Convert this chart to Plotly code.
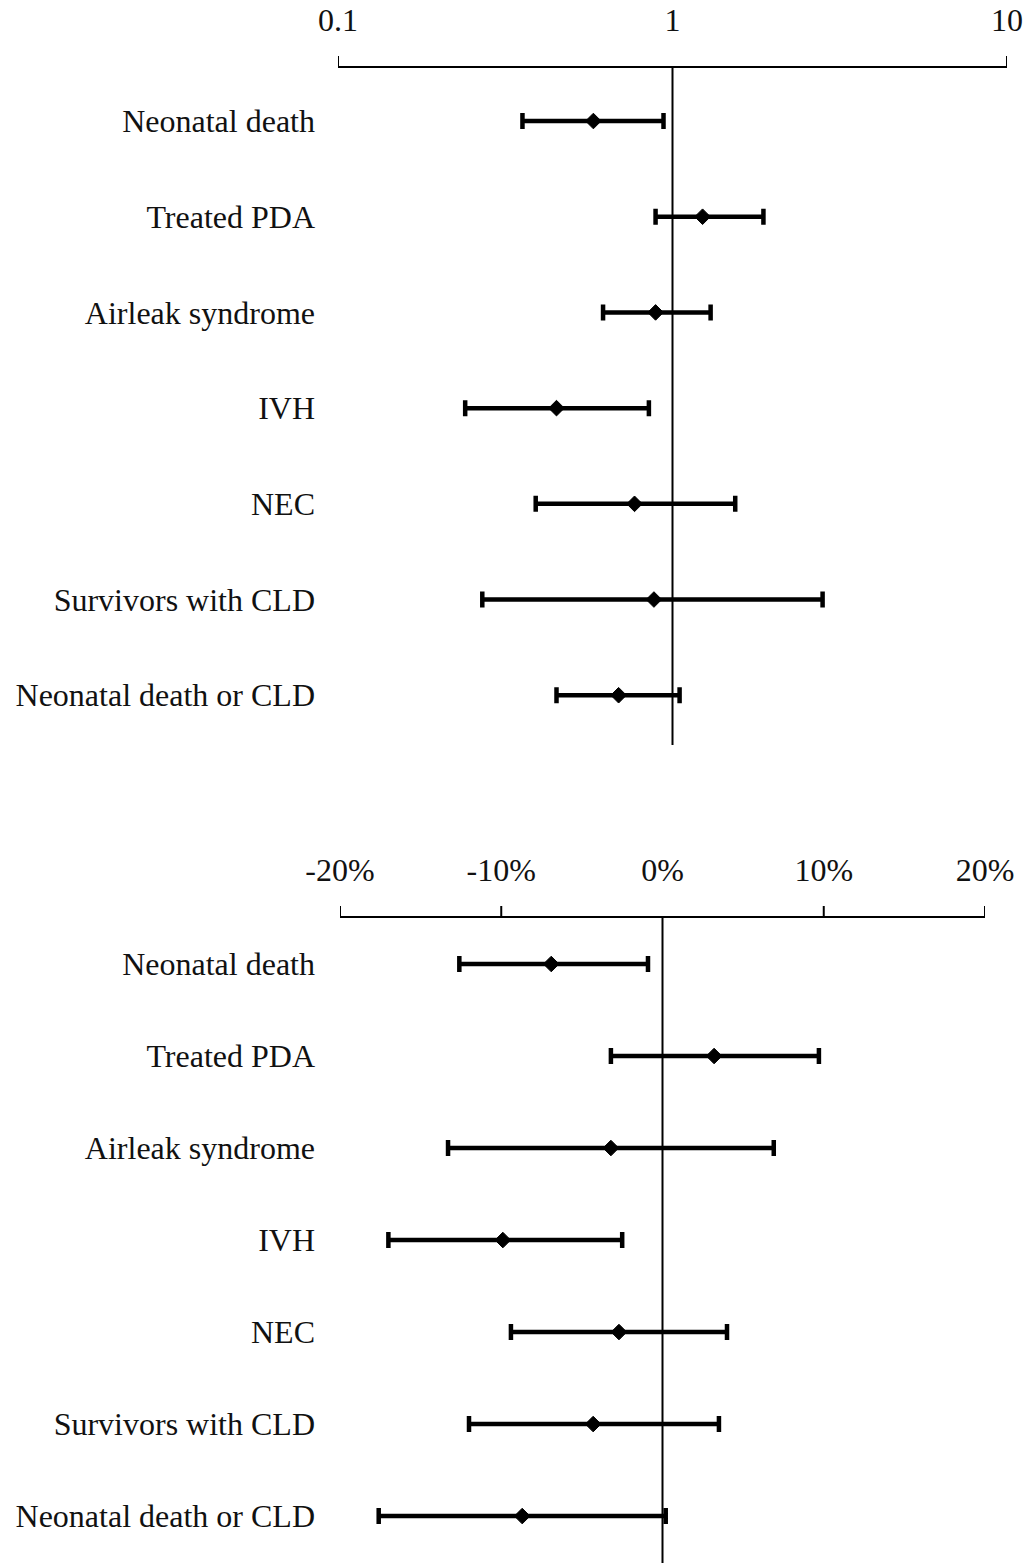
import plotly.graph_objects as go

# Outcomes, listed top to bottom
outcomes = ["Neonatal death", "Treated PDA", "Airleak syndrome", "IVH", "NEC",
            "Survivors with CLD", "Neonatal death or CLD"]

# Relative risk with 95% CI (log scale panel)
rr = [0.58, 1.23, 0.89, 0.45, 0.77, 0.88, 0.69]
rr_low = [0.356, 0.89, 0.62, 0.24, 0.39, 0.27, 0.45]
rr_high = [0.94, 1.87, 1.30, 0.85, 1.54, 2.81, 1.05]

# Risk difference (%) with 95% CI
rd = [-6.9, 3.2, -3.2, -9.9, -2.7, -4.3, -8.7]
rd_low = [-12.6, -3.2, -13.3, -17.0, -9.4, -12.0, -17.6]
rd_high = [-0.9, 9.7, 6.9, -2.5, 4.0, 3.5, 0.2]

rr_ticks = [0.1, 1, 10]
rr_ticktext = ["0.1", "1", "10"]
rr_mark_ticks = [0.1, 10]
rd_ticks = [-20, -10, 0, 10, 20]
rd_ticktext = ["-20%", "-10%", "0%", "10%", "20%"]
rd_mark_ticks = [-20, -10, 10, 20]

W, H = 1032, 1563
FONT = "Liberation Serif, Times New Roman, serif"
ypos = list(range(len(outcomes)))

fig = go.Figure()


def ci_trace(est, low, high, xa, ya):
    return go.Scatter(
        x=est, y=ypos, mode="markers", xaxis=xa, yaxis=ya,
        marker=dict(symbol="diamond", size=12, color="black",
                    line=dict(width=1, color="black")),
        error_x=dict(type="data", symmetric=False,
                     array=[h - v for h, v in zip(high, est)],
                     arrayminus=[v - l for v, l in zip(est, low)],
                     color="black", thickness=4.5, width=8),
        showlegend=False, hoverinfo="skip")


fig.add_trace(ci_trace(rr, rr_low, rr_high, "x", "y"))
fig.add_trace(ci_trace(rd, rd_low, rd_high, "x2", "y2"))

# Panel geometry (pixels)
top_axis_px, top_bottom_px = 68, 745
bot_axis_px, bot_bottom_px = 918, 1563
x1_dom = [338 / W, 1007 / W]
x2_dom = [340 / W, 985 / W]
y1_dom = [1 - top_bottom_px / H, 1 - top_axis_px / H]
y2_dom = [1 - bot_bottom_px / H, 1 - bot_axis_px / H]

tickfont = dict(family=FONT, size=32, color="#111")
labelfont = dict(family=FONT, size=32, color="#111")

common_x = dict(side="top", ticks="", showline=True, linecolor="black",
                linewidth=2, showgrid=False, zeroline=False,
                tickfont=tickfont, ticklabelstandoff=22, automargin=False)
common_y = dict(ticks="", showline=False, showgrid=False, zeroline=False,
                tickfont=labelfont, ticklabelstandoff=22, automargin=False,
                tickvals=ypos, ticktext=outcomes)

fig.update_layout(
    width=W, height=H,
    margin=dict(l=0, r=0, t=0, b=0),
    paper_bgcolor="white", plot_bgcolor="white",
    xaxis=dict(type="log", domain=x1_dom, range=[-1, 1], anchor="y",
               tickvals=rr_ticks, ticktext=rr_ticktext, **common_x),
    yaxis=dict(domain=y1_dom, range=[6.52, -0.554], **common_y),
    xaxis2=dict(domain=x2_dom, range=[-20, 20], anchor="y2",
                tickvals=rd_ticks, ticktext=rd_ticktext, **common_x),
    yaxis2=dict(domain=y2_dom, range=[6.51, -0.5], **common_y),
)

# Upward tick marks on the axis lines
tick_len = 12
for v in rr_mark_ticks:
    fig.add_shape(type="line", xref="x", yref="y domain", x0=v, x1=v,
                  y0=1, y1=1 + tick_len / (top_bottom_px - top_axis_px),
                  line=dict(color="black", width=2))
for v in rd_mark_ticks:
    fig.add_shape(type="line", xref="x2", yref="y2 domain", x0=v, x1=v,
                  y0=1, y1=1 + tick_len / (bot_bottom_px - bot_axis_px),
                  line=dict(color="black", width=2))

# Reference lines of no effect
fig.add_shape(type="line", xref="x", yref="y domain", x0=1, x1=1, y0=0, y1=1,
              line=dict(color="black", width=2), layer="below")
fig.add_shape(type="line", xref="x2", yref="y2 domain", x0=0, x1=0, y0=0, y1=1,
              line=dict(color="black", width=2), layer="below")

fig.write_html("out.html")
